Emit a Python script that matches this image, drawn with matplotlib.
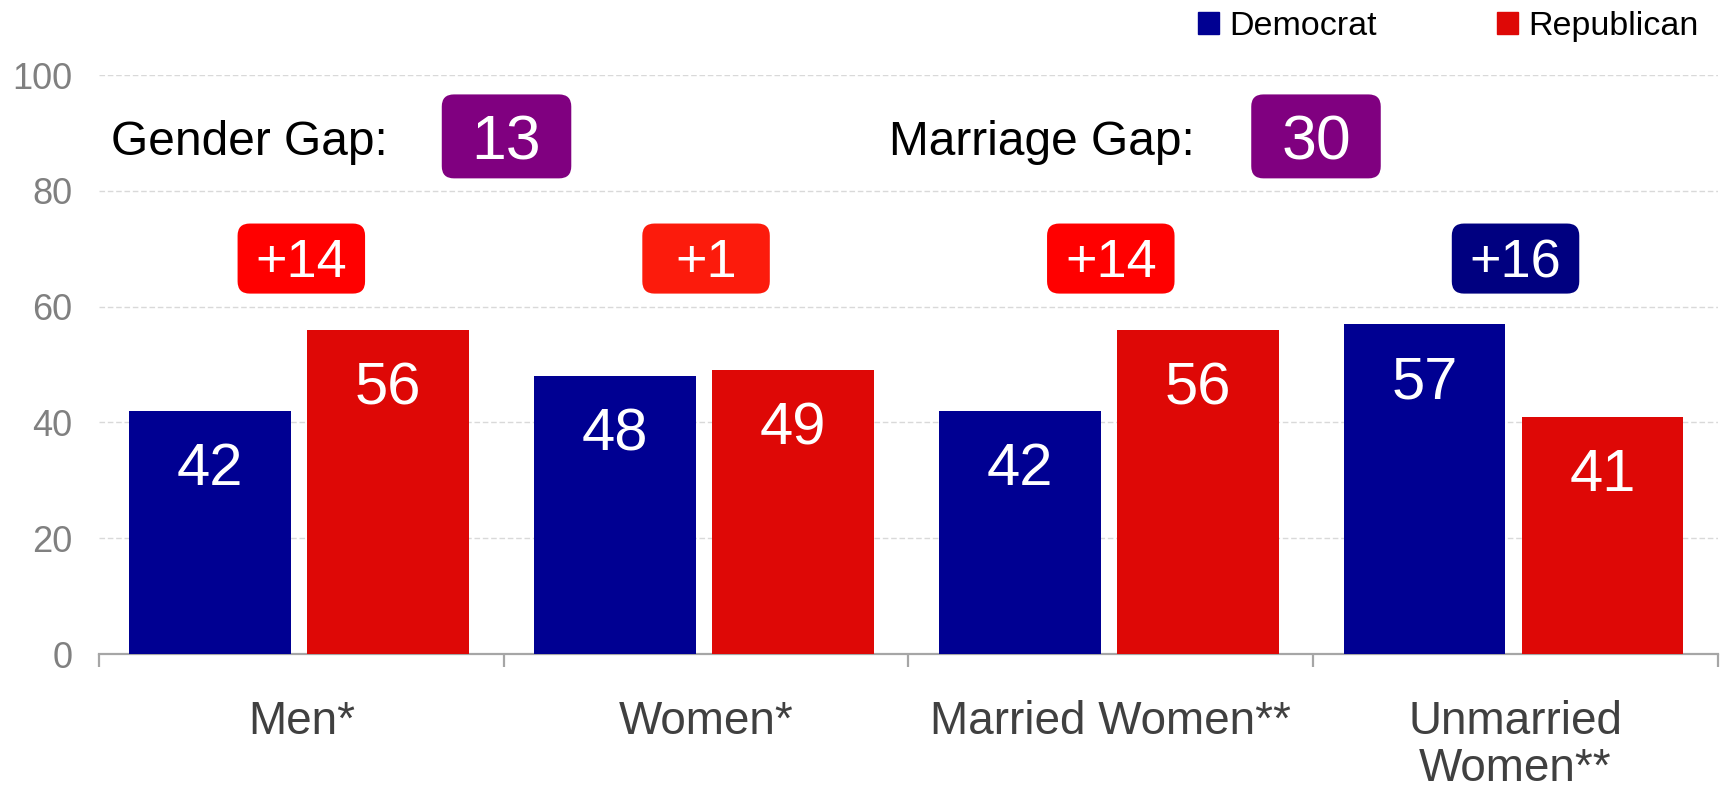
"""Party vote by gender and marital status, with gap badges."""
import matplotlib
matplotlib.use("Agg")
import matplotlib.pyplot as plt
import numpy as np
from matplotlib.patches import FancyBboxPatch, Patch

plt.rcParams["font.family"] = ["Liberation Sans", "DejaVu Sans"]

# ---- data ----
categories = ["Men*", "Women*", "Married Women**", "Unmarried\nWomen**"]
dem = [42, 48, 42, 57]
rep = [56, 49, 56, 41]
margin_labels = ["+14", "+1", "+14", "+16"]
gap_titles = ["Gender Gap:", "Marriage Gap:"]
gap_values = [13, 30]

# ---- styles ----
DEM = "#000092"
REP = "#DE0806"
BADGE = ["#FF0000", "#FC1B0C", "#FF0000", "#000080"]
PURPLE = "#800080"
GRID = "#d9d9d9"
AXIS = "#a6a6a6"


def badge(ax, xc, yc, w, h, color, text, size, aspect, dy, r=0.03):
    box = FancyBboxPatch((xc - w / 2, yc - h / 2), w, h,
                         boxstyle=f"round,pad=0,rounding_size={r}",
                         mutation_aspect=aspect, fc=color, ec="none", zorder=4)
    ax.add_patch(box)
    ax.text(xc, yc - dy, text, ha="center", va="center", color="white",
            fontsize=size, zorder=5)


fig = plt.figure(figsize=(17.21, 7.88), dpi=100)
ax = fig.add_axes([0.0575, 0.170, 0.9407, 0.7348])
x = np.arange(len(categories))
ax.set_xlim(-0.5, len(categories) - 0.5)
ax.set_ylim(0, 100)

bd = ax.bar(x - 0.225, dem, width=0.40, color=DEM, zorder=3, label="Democrat")
br = ax.bar(x + 0.215, rep, width=0.40, color=REP, zorder=3, label="Republican")
for bars in (bd, br):
    for b in bars:
        v = b.get_height()
        ax.text(b.get_x() + b.get_width() / 2, v - 10.2, f"{v:g}", ha="center",
                va="center", color="white", fontsize=43, zorder=4)

# axes styling
for s in ("left", "right", "top"):
    ax.spines[s].set_visible(False)
ax.spines["bottom"].set_color(AXIS)
ax.spines["bottom"].set_linewidth(1.6)
ax.set_yticks(np.arange(0, 101, 20))
ax.tick_params(axis="y", length=0, pad=19, labelsize=26, labelcolor="#808080")
ax.set_xticks(x)
ax.set_xticklabels(categories, linespacing=1.1)
ax.set_xticks(np.arange(-0.5, len(categories)), minor=True)
ax.tick_params(axis="x", which="major", length=0, pad=33, labelsize=33,
               labelcolor="#404040")
ax.tick_params(axis="x", which="minor", length=9.5, width=1.6, color=AXIS)
ax.yaxis.grid(True, color=GRID, lw=1, ls=(0, (4, 2)), zorder=0)
ax.set_axisbelow(True)

# rounding correction for unequal data scales
fig.canvas.draw()
px_x = ax.bbox.width / 4
px_y = ax.bbox.height / 100
aspect = px_x / px_y

for xi, lab, col in zip(x, margin_labels, BADGE):
    badge(ax, xi, 68.3, 0.315, 12.1, col, lab, 39, aspect, dy=0.8)

for tx, gx, title, val in zip([-0.47, 1.451], [0.5, 2.5], gap_titles, gap_values):
    ax.text(tx, 88.4, title, ha="left", va="center", fontsize=34.5,
            color="black", zorder=5)
    badge(ax, gx + 0.007, 89.4, 0.32, 14.5, PURPLE, str(val), 45, aspect, dy=1.1)

handles = [Patch(color=DEM, label="Democrat"), Patch(color=REP, label="Republican")]
fig.legend(handles=handles, loc="upper right", bbox_to_anchor=(1.005, 1.025), ncol=2,
           frameon=False, fontsize=24.5, handlelength=0.62, handleheight=0.62,
           handletextpad=0.3, columnspacing=3.55)

fig.savefig("out.png", dpi=100)
